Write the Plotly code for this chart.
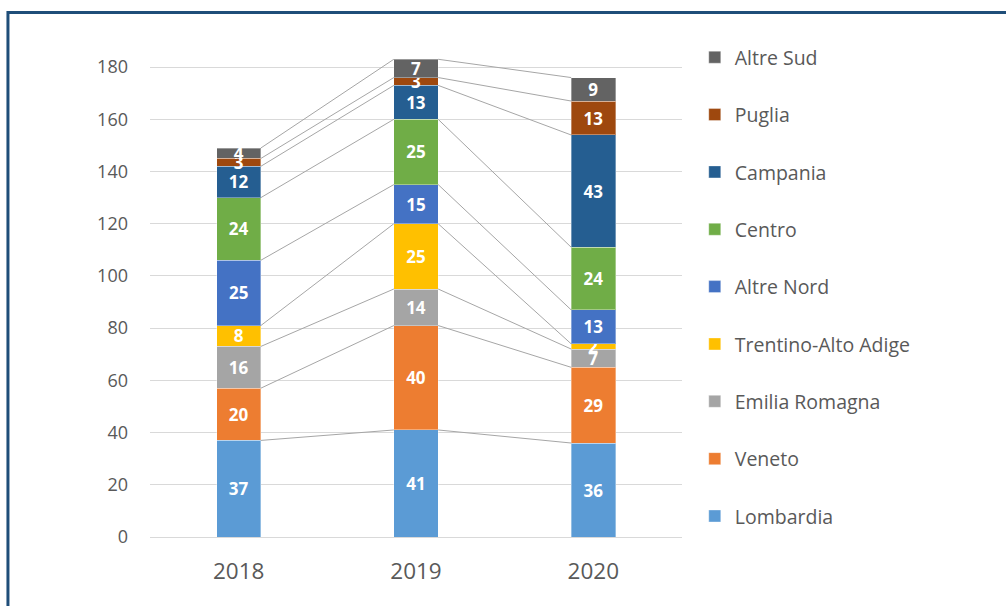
import plotly.graph_objects as go

years = ["2018", "2019", "2020"]
series = ["Lombardia", "Veneto", "Emilia Romagna", "Trentino-Alto Adige", "Altre Nord",
          "Centro", "Campania", "Puglia", "Altre Sud"]
lombardia = [37, 41, 36]
veneto = [20, 40, 29]
emilia = [16, 14, 7]
trentino = [8, 25, 2]
altre_nord = [25, 15, 13]
centro = [24, 25, 24]
campania = [12, 13, 43]
puglia = [3, 3, 13]
altre_sud = [4, 7, 9]
values = [lombardia, veneto, emilia, trentino, altre_nord, centro, campania, puglia, altre_sud]
colors = ["#5B9BD5", "#ED7D31", "#A5A5A5", "#FFC000", "#4472C4",
          "#70AD47", "#255E91", "#9E480E", "#636363"]

xs = list(range(len(years)))
bw = 0.25
fig = go.Figure()

# series lines (connecting tops of each segment)
cum = [0] * len(years)
for vals in values:
    cum = [c + v for c, v in zip(cum, vals)]
    for i in range(len(years) - 1):
        fig.add_trace(go.Scatter(x=[xs[i] + bw / 2, xs[i + 1] - bw / 2], y=[cum[i], cum[i + 1]],
                                 mode="lines", line=dict(color="#A6A6A6", width=1),
                                 showlegend=False, hoverinfo="skip"))

n = len(series)
for k, (name, vals, col) in enumerate(zip(series, values, colors)):
    fig.add_trace(go.Bar(x=xs, y=vals, name=name, width=bw, marker=dict(color=col,
                         line=dict(color="rgba(255,255,255,0.35)", width=1)),
                         text=[str(v) for v in vals], textposition="inside",
                         insidetextanchor="middle", textangle=0,
                         textfont=dict(color="white", size=17, family="Open Sans", weight="bold"),
                         legendgroup=name, legendrank=100 + (n - k), constraintext="none",
                         cliponaxis=False))

fig.update_layout(
    barmode="stack", width=1006, height=606,
    margin=dict(l=150, r=324, t=41, b=69, autoexpand=False),
    paper_bgcolor="white", plot_bgcolor="white",
    font=dict(family="Open Sans", color="#595959"),
    uniformtext=dict(minsize=17, mode="show"),
    showlegend=True,
    legend=dict(x=1.024, y=1.006, xanchor="left", yanchor="top", traceorder="grouped",
                font=dict(size=19.5, color="#595959", family="Open Sans"), tracegroupgap=29,
                itemwidth=30, maxheight=590),
    xaxis=dict(tickmode="array", tickvals=xs, ticktext=years, range=[-0.5, 2.5],
               showgrid=False, zeroline=False, showline=False, ticks="",
               tickfont=dict(size=22.5, color="#595959"), ticklabelstandoff=18),
    yaxis=dict(range=[0, 190], tick0=0, dtick=20, showgrid=True, gridcolor="#D9D9D9",
               gridwidth=1, zeroline=True, zerolinecolor="#D9D9D9", zerolinewidth=1,
               tickfont=dict(size=18, color="#595959"), ticklabelstandoff=21, ticks=""),
    shapes=[dict(type="rect", xref="paper", yref="paper", x0=-0.267, x1=1.62, y0=-0.2, y1=1.0575,
                 line=dict(color="#1F4E79", width=3), layer="above")],
)

fig.write_html("out.html", config={"displayModeBar": False},
               post_script="document.body.style.margin='0';document.body.style.overflow='hidden';")
